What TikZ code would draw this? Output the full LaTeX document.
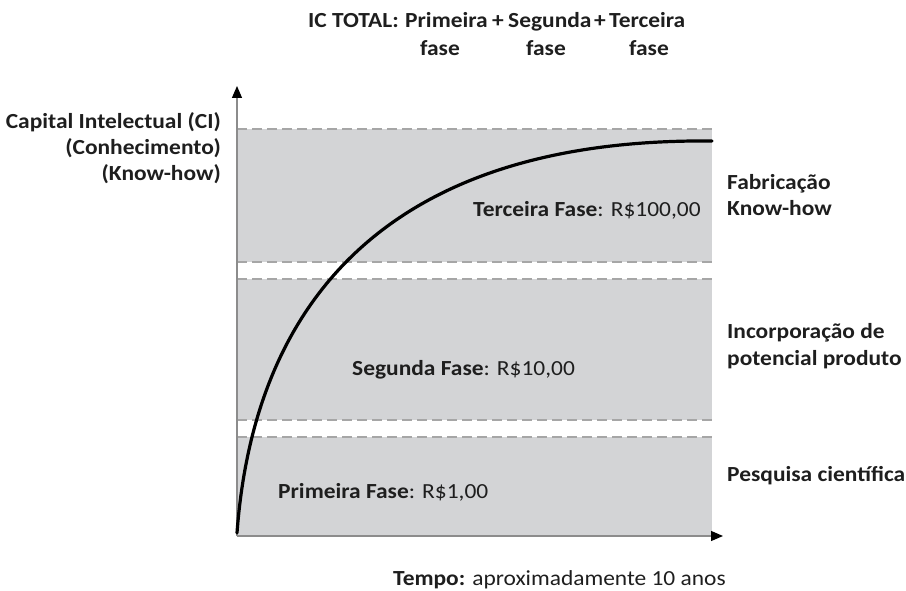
\documentclass[tikz,border=0pt]{standalone}
\usepackage{fontspec}
\setmainfont{Carlito}[FakeStretch=1.09]
\usetikzlibrary{arrows.meta}
\definecolor{bandgray}{HTML}{D3D4D6}
\definecolor{dashgray}{HTML}{A6A6A6}
\definecolor{axisgray}{HTML}{8C8C8C}
\definecolor{txt}{HTML}{1E1E1E}
\tikzset{
  lbl/.style={inner sep=0pt, text=txt, font=\fontsize{21.5}{26}\selectfont},
  blbl/.style={lbl, font=\fontsize{21.5}{26}\selectfont\bfseries},
  band/.style={fill=bandgray, draw=none},
  bandline/.style={draw=dashgray, line width=1.8pt, dash pattern=on 10pt off 5pt},
  axis/.style={draw=axisgray, line width=1.3pt, -{Triangle[length=12pt,width=10pt,fill=black,color=black]}},
  growth/.style={draw=black, line width=3.2pt, line cap=round}
}
\begin{document}
\begin{tikzpicture}[x=1pt,y=-1pt]
\useasboundingbox (0,0) rectangle (906,591);
% bands
\fill[band] (237,129) rectangle (712,262);
\fill[band] (237,279) rectangle (712,420);
\fill[band] (237,437) rectangle (712,536);
\draw[bandline] (237,129) -- (712,129);
\draw[bandline] (237,262) -- (712,262);
\draw[bandline] (237,279) -- (712,279);
\draw[bandline] (237,420) -- (712,420);
\draw[bandline] (237,437) -- (712,437);
% axes
\coordinate (O) at (237,536);
\coordinate (ytip) at (237,86);
\coordinate (xtip) at (723,536);
\draw[axis] (O) -- (ytip);
\draw[axis] (O) -- (xtip);
% curve
\draw[growth] (237,533) .. controls (255,290) and (400,138) .. (712,141);
% top title
\node[blbl, anchor=base west] (ic) at (308,28) {IC TOTAL:};
\node[blbl, anchor=base west] (p1) at (405,28) {Primeira};
\node[blbl, anchor=base] (plus1) at (498,28) {+};
\node[blbl, anchor=base west] (p2) at (508,28) {Segunda};
\node[blbl, anchor=base] (plus2) at (600,28) {+};
\node[blbl, anchor=base west] (p3) at (609,28) {Terceira};
\node[blbl, anchor=base] (f1) at (440,56) {fase};
\node[blbl, anchor=base] (f2) at (546,56) {fase};
\node[blbl, anchor=base] (f3) at (649,56) {fase};
% left labels
\node[blbl, anchor=base east] (ci1) at (221,129) {Capital Intelectual (CI)};
\node[blbl, anchor=base east] (ci2) at (221,155) {(Conhecimento)};
\node[blbl, anchor=base east] (ci3) at (221,181) {(Know-how)};
% band labels
\node[lbl, anchor=base west] (t3) at (473,217) {\textbf{Terceira Fase}: R\$100,00};
\node[lbl, anchor=base west] (t2) at (352,375) {\textbf{Segunda Fase}: R\$10,00};
\node[lbl, anchor=base west] (t1) at (278,498) {\textbf{Primeira Fase}: R\$1,00};
% right labels
\node[blbl, anchor=base west] (r3a) at (727,190) {Fabricação};
\node[blbl, anchor=base west] (r3b) at (727,216) {Know-how};
\node[blbl, anchor=base west] (r2a) at (727,338) {Incorporação de};
\node[blbl, anchor=base west] (r2b) at (727,365) {potencial produto};
\node[blbl, anchor=base west] (r1) at (727,481) {Pesquisa científica};
% time label
\node[lbl, anchor=base west] (tempo) at (393,585) {\textbf{Tempo:} aproximadamente 10 anos};
\end{tikzpicture}
\end{document}
